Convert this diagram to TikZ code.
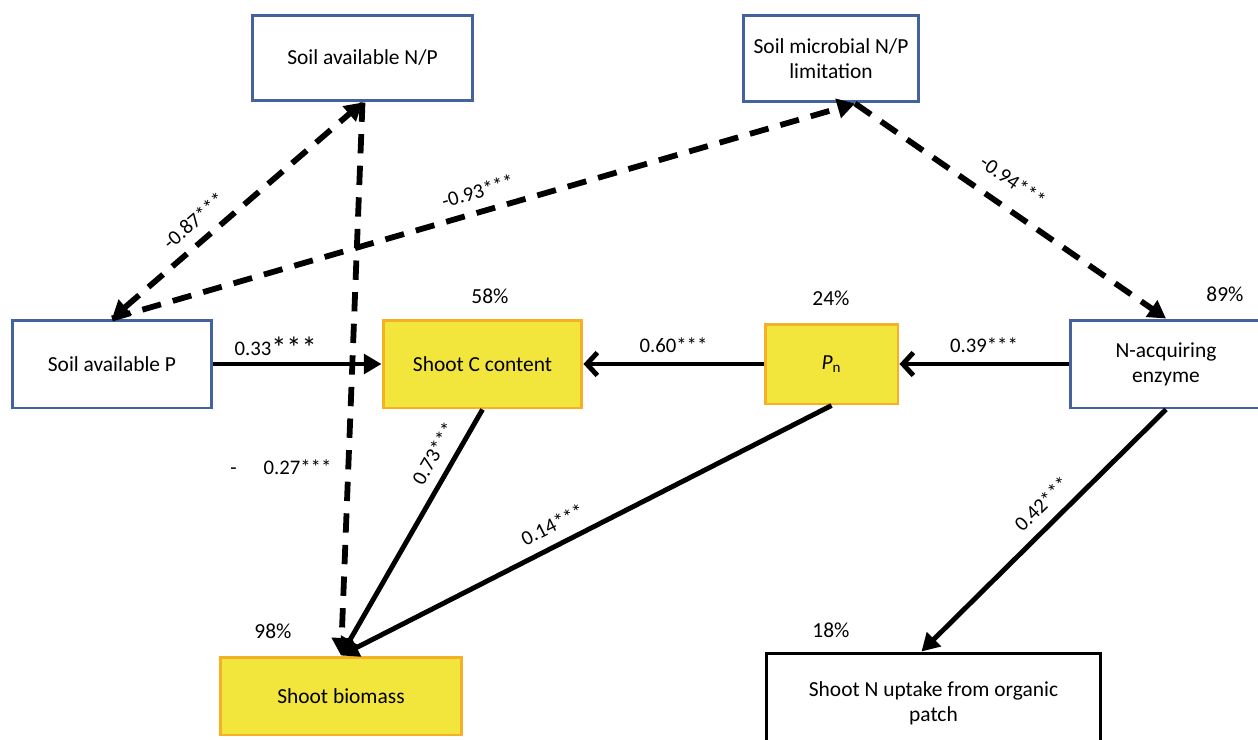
\documentclass[tikz,border=0pt]{standalone}
\usepackage{fontspec}
\setmainfont{Carlito}
\usepackage{tikz}
\usetikzlibrary{arrows.meta,calc,positioning}
\usepackage{xcolor}
\definecolor{varblue}{RGB}{68,98,158}
\definecolor{plantyellow}{RGB}{242,230,61}
\definecolor{plantorange}{RGB}{246,176,38}
\tikzset{
  varbox/.style={draw=varblue, line width=1.7pt, fill=white, inner sep=0pt, align=center,
    font=\fontsize{12.2}{14.2}\selectfont},
  plantbox/.style={varbox, draw=plantorange, fill=plantyellow},
  outbox/.style={varbox, draw=black},
  effect/.style={line width=2.8pt, -{Triangle[length=10pt,width=11pt]}},
  effectbarb/.style={line width=2.8pt, -{Straight Barb[length=6pt,width=13pt]}},
  negeffect/.style={line width=3.3pt, dash pattern=on 11pt off 7pt, -{Triangle[length=10pt,width=11pt]}},
  coef/.style={font=\fontsize{11.8}{13}\selectfont, inner sep=2pt},
  pct/.style={font=\fontsize{12.2}{14}\selectfont, inner sep=0pt}
}

\begin{document}
\begin{tikzpicture}[x=0.02cm, y=-0.02cm]
    \clip (0,0) rectangle (1258,740);
    % Draw the soil boxes
    \node[varbox, minimum width=4.42cm, minimum height=1.72cm] (soilnp) at (362.5,58) {Soil available N/P};
    \node[varbox, minimum width=3.52cm, minimum height=1.74cm] (micro) at (831,58.5) {Soil microbial N/P\\limitation};
    \node[varbox, minimum width=4cm, minimum height=1.76cm] (soilp) at (112,364) {Soil available P};
    \node[varbox, minimum width=3.84cm, minimum height=1.76cm] (nacq) at (1166,364) {N-acquiring\\enzyme};
    % Draw the plant boxes
    \node[plantbox, minimum width=3.98cm, minimum height=1.76cm] (shootc) at (482.5,364) {Shoot C content};
    \node[plantbox, minimum width=2.66cm, minimum height=1.6cm] (pn) at (831.5,364) {\textit{P}\textsubscript{n}};
    \node[plantbox, minimum width=4.84cm, minimum height=1.56cm] (biomass) at (341,696) {Shoot biomass};
    \node[outbox, minimum width=6.7cm, minimum height=2cm] (shootn) at (933.5,703) {Shoot N uptake from organic\\patch};
    % Draw the explained variance
    \node[pct] (r2c) at (490,296) {58\%};
    \node[pct] (r2pn) at (831,298) {24\%};
    \node[pct] (r2nacq) at (1225,294) {89\%};
    \node[pct] (r2bio) at (273,631) {98\%};
    \node[pct] (r2n) at (831,630) {18\%};
    % Draw the negative paths
    \draw[negeffect, {Triangle[length=10pt,width=11pt]}-{Triangle[length=10pt,width=11pt]}]
        (soilp.north) -- node[coef, above=4pt, sloped, pos=0.38] {-0.87***} (soilnp.south);
    \draw[negeffect] (soilp.north) -- node[coef, above=4pt, sloped, pos=0.5] {-0.93***} ($(micro.south)+(24,0)$);
    \draw[negeffect] ($(micro.south)+(24,0)$) -- node[coef, above=7pt, sloped, pos=0.46] {-0.94***} (nacq.north);
    \draw[negeffect] (soilnp.south) -- node[coef, left=6pt, pos=0.66] {-\hspace{1.3em}0.27***} (biomass.north);
    % Draw the positive paths
    \draw[effect] (soilp) -- node[coef, above, pos=0.37] {0.33\raisebox{-0.3ex}{\LARGE***}} (shootc);
    \draw[effectbarb] (pn) -- node[coef, above=3pt, pos=0.5] {0.60***} (shootc);
    \draw[effectbarb] (nacq) -- node[coef, above=3pt, pos=0.5] {0.39***} (pn);
    \draw[effect] (shootc.south) -- node[coef, above=4pt, sloped, pos=0.22] {0.73***} (biomass.north);
    \draw[effect] (pn.south) -- node[coef, above=4pt, sloped, pos=0.55] {0.14***} (biomass.north);
    \draw[effect] (nacq.south) -- node[coef, above=4pt, sloped, pos=0.45] {0.42***} ($(shootn.north)+(-12,0)$);
\end{tikzpicture}
\end{document}
